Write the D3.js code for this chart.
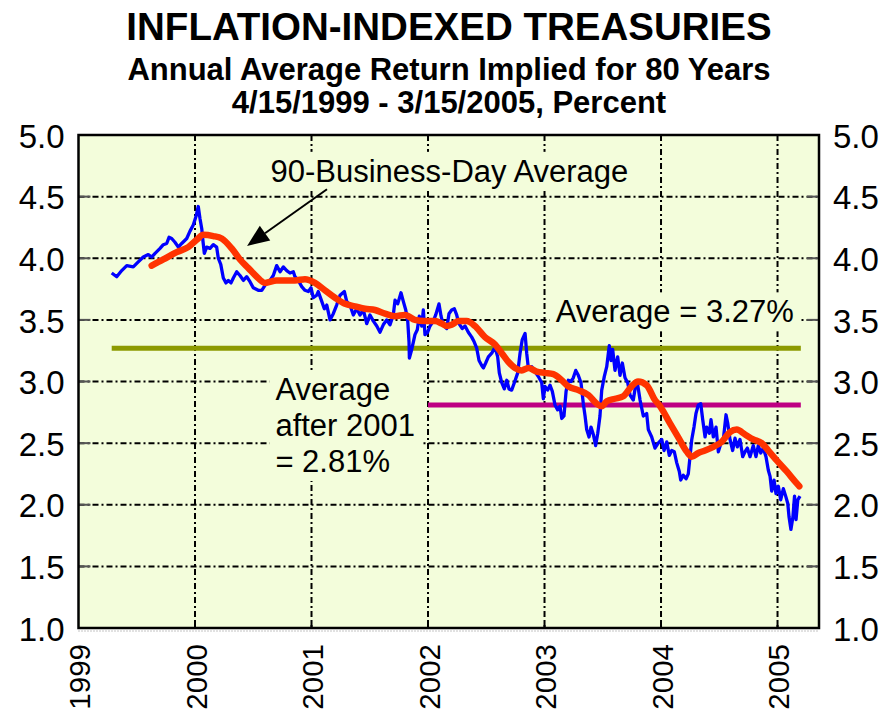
<!DOCTYPE html>
<html>
<head>
<meta charset="utf-8">
<script src="https://cdn.jsdelivr.net/npm/d3@7"></script>
<style>
  html, body { margin: 0; padding: 0; background: #ffffff; }
  svg { display: block; font-family: "Liberation Sans", Arial, sans-serif; }
</style>
</head>
<body>
<svg id="chart" width="883" height="711"></svg>
<script>
// ---------- DATA ----------
const titleLines = ["INFLATION-INDEXED TREASURIES", "Annual Average Return Implied for 80 Years", "4/15/1999 - 3/15/2005, Percent"];
const yTicks = [1.0, 1.5, 2.0, 2.5, 3.0, 3.5, 4.0, 4.5, 5.0];
const yearTicks = [1999, 2000, 2001, 2002, 2003, 2004, 2005];

// Weekly yield (decimal year, percent)
const blueT = [1999.285,1999.328,1999.371,1999.414,1999.470,1999.513,1999.556,1999.599,1999.628,1999.657,1999.700,1999.728,1999.757,1999.777,1999.800,1999.828,1999.857,1999.886,1999.929,1999.957,1999.985,2000.009,2000.028,2000.043,2000.058,2000.066,2000.080,2000.100,2000.129,2000.157,2000.186,2000.200,2000.221,2000.243,2000.266,2000.286,2000.309,2000.329,2000.358,2000.386,2000.415,2000.444,2000.472,2000.500,2000.543,2000.573,2000.601,2000.644,2000.672,2000.701,2000.730,2000.758,2000.787,2000.815,2000.844,2000.858,2000.887,2000.916,2000.944,2000.973,2000.996,2001.015,2001.045,2001.058,2001.088,2001.110,2001.131,2001.159,2001.187,2001.216,2001.245,2001.282,2001.302,2001.330,2001.359,2001.388,2001.416,2001.445,2001.474,2001.502,2001.531,2001.560,2001.588,2001.616,2001.645,2001.674,2001.702,2001.717,2001.740,2001.768,2001.788,2001.809,2001.826,2001.837,2001.840,2001.860,2001.874,2001.888,2001.908,2001.925,2001.946,2001.960,2001.974,2001.997,2002.017,2002.045,2002.066,2002.094,2002.112,2002.131,2002.161,2002.180,2002.203,2002.226,2002.246,2002.266,2002.294,2002.318,2002.346,2002.375,2002.397,2002.418,2002.438,2002.461,2002.475,2002.495,2002.518,2002.547,2002.575,2002.598,2002.612,2002.633,2002.655,2002.676,2002.695,2002.718,2002.741,2002.770,2002.790,2002.809,2002.833,2002.847,2002.861,2002.890,2002.918,2002.947,2002.976,2002.990,2003.004,2003.027,2003.047,2003.067,2003.090,2003.113,2003.133,2003.148,2003.167,2003.185,2003.204,2003.227,2003.247,2003.268,2003.290,2003.313,2003.333,2003.348,2003.362,2003.382,2003.399,2003.419,2003.439,2003.457,2003.476,2003.491,2003.513,2003.534,2003.548,2003.556,2003.571,2003.585,2003.605,2003.628,2003.648,2003.668,2003.691,2003.714,2003.734,2003.762,2003.777,2003.797,2003.820,2003.848,2003.877,2003.891,2003.920,2003.948,2003.976,2004.006,2004.026,2004.049,2004.071,2004.092,2004.114,2004.135,2004.157,2004.169,2004.191,2004.215,2004.234,2004.249,2004.264,2004.283,2004.300,2004.320,2004.341,2004.358,2004.378,2004.392,2004.415,2004.429,2004.449,2004.472,2004.492,2004.515,2004.535,2004.558,2004.573,2004.592,2004.615,2004.635,2004.655,2004.678,2004.701,2004.721,2004.741,2004.764,2004.792,2004.815,2004.835,2004.856,2004.878,2004.901,2004.921,2004.936,2004.950,2004.970,2004.987,2005.007,2005.027,2005.050,2005.070,2005.088,2005.099,2005.115,2005.132,2005.146,2005.159,2005.174,2005.193];
const blueV = [3.88,3.85,3.90,3.94,3.93,3.97,4.01,4.03,4.01,4.04,4.08,4.11,4.12,4.17,4.16,4.13,4.09,4.12,4.16,4.22,4.27,4.34,4.42,4.32,4.24,4.16,4.04,4.09,4.08,4.11,4.09,4.00,3.95,3.84,3.80,3.82,3.80,3.84,3.89,3.86,3.82,3.85,3.81,3.76,3.74,3.74,3.78,3.82,3.86,3.94,3.89,3.93,3.90,3.88,3.89,3.85,3.82,3.77,3.74,3.73,3.76,3.68,3.70,3.73,3.65,3.59,3.62,3.50,3.55,3.62,3.70,3.73,3.65,3.62,3.54,3.59,3.54,3.58,3.47,3.54,3.49,3.45,3.40,3.46,3.50,3.46,3.54,3.66,3.63,3.72,3.65,3.58,3.49,3.32,3.19,3.26,3.32,3.38,3.42,3.53,3.45,3.58,3.38,3.40,3.45,3.49,3.54,3.63,3.53,3.46,3.43,3.55,3.58,3.59,3.54,3.47,3.43,3.45,3.40,3.36,3.32,3.27,3.17,3.13,3.11,3.15,3.20,3.23,3.28,3.20,3.07,2.99,2.94,3.01,2.94,2.93,2.99,3.07,3.23,3.34,3.39,3.23,3.11,3.12,3.08,3.04,2.99,2.86,2.96,2.93,2.97,2.92,2.81,2.77,2.80,2.70,2.72,2.92,3.01,3.00,3.03,3.09,3.05,2.99,2.82,2.72,2.61,2.55,2.63,2.57,2.48,2.58,2.72,2.93,3.04,3.12,3.23,3.29,3.17,3.26,3.09,3.20,3.05,3.15,3.03,2.99,2.89,2.85,2.94,2.99,2.85,2.72,2.74,2.61,2.55,2.46,2.50,2.53,2.44,2.51,2.40,2.44,2.43,2.34,2.27,2.20,2.24,2.21,2.25,2.39,2.53,2.63,2.74,2.81,2.82,2.69,2.55,2.63,2.58,2.69,2.55,2.63,2.43,2.50,2.53,2.73,2.66,2.53,2.44,2.54,2.47,2.53,2.39,2.43,2.46,2.39,2.48,2.39,2.48,2.42,2.46,2.39,2.28,2.23,2.11,2.20,2.09,2.15,2.04,2.13,2.07,2.01,1.90,1.80,1.90,2.07,1.88,2.04,2.07];

// 90-business-day average
const redT = [1999.628,1999.728,1999.843,1999.942,2000.015,2000.071,2000.157,2000.229,2000.315,2000.386,2000.458,2000.530,2000.601,2000.701,2000.787,2000.858,2000.944,2001.030,2001.116,2001.202,2001.288,2001.373,2001.459,2001.545,2001.631,2001.717,2001.803,2001.888,2001.974,2002.060,2002.118,2002.161,2002.203,2002.260,2002.332,2002.403,2002.489,2002.575,2002.633,2002.689,2002.747,2002.804,2002.861,2002.933,2003.004,2003.076,2003.148,2003.204,2003.290,2003.376,2003.448,2003.491,2003.534,2003.605,2003.676,2003.747,2003.803,2003.877,2003.948,2003.991,2004.077,2004.152,2004.222,2004.264,2004.320,2004.378,2004.449,2004.521,2004.592,2004.650,2004.721,2004.792,2004.864,2004.921,2004.993,2005.079,2005.150,2005.187];
const redV = [3.94,3.99,4.05,4.09,4.15,4.19,4.18,4.16,4.08,3.99,3.92,3.85,3.80,3.82,3.82,3.82,3.83,3.80,3.74,3.68,3.63,3.61,3.59,3.58,3.55,3.53,3.54,3.50,3.49,3.49,3.47,3.45,3.46,3.49,3.49,3.45,3.36,3.30,3.23,3.16,3.11,3.09,3.11,3.08,3.07,3.06,3.01,2.96,2.93,2.89,2.82,2.80,2.84,2.86,2.88,2.96,3.00,2.97,2.85,2.80,2.66,2.54,2.43,2.39,2.42,2.44,2.47,2.51,2.59,2.61,2.57,2.53,2.50,2.44,2.36,2.27,2.19,2.15];

// Average reference lines
const avgAllValue = 3.27, avgAllStart = 1999.285, avgAllEnd = 2005.2;
const avgPostValue = 2.81, avgPostStart = 2002.0, avgPostEnd = 2005.2;

// Annotations (anchored in data units)
const maLabel = "90-Business-Day Average";
const maLabelAt = [2000.648, 4.62];
const arrowFrom = [2001.133, 4.56];
const arrowTo = [2000.447, 4.10];
const avgAllLabel = "Average = 3.27%";
const avgAllLabelAt = [2003.096, 3.48];
const avgPostLines = ["Average", "after 2001", "= 2.81%"];
const avgPostLabelAt = [2000.69, 2.85];

// ---------- LAYOUT ----------
const svg = d3.select("#chart");
const plot = { left: 78.5, right: 819, top: 135, bottom: 628 };
const x = d3.scaleLinear().domain([1999, 2005.356]).range([plot.left, plot.right]);
const y = d3.scaleLinear().domain([1, 5]).range([plot.bottom, plot.top]);

const plotBg = "#F3FDDB";
const fontAnno = "31px";

// Title
const titleSizes = [38.5, 31, 31];
const titleY = [40, 80, 113];
titleLines.forEach((t, i) => {
  svg.append("text").attr("x", 449).attr("y", titleY[i])
    .attr("text-anchor", "middle").attr("font-weight", "bold")
    .attr("font-size", titleSizes[i] + "px").attr("fill", "#000").text(t);
});

// Plot background
svg.append("rect").attr("x", plot.left).attr("y", plot.top)
  .attr("width", plot.right - plot.left).attr("height", plot.bottom - plot.top)
  .attr("fill", plotBg);

// Gridlines
const grid = svg.append("g").attr("stroke", "#000").attr("stroke-width", 2)
  .attr("stroke-dasharray", "6,3,2,3");
yTicks.filter(v => v > 1 && v < 5).forEach(v => {
  grid.append("line").attr("x1", plot.left).attr("x2", plot.right)
    .attr("y1", y(v)).attr("y2", y(v));
});
yearTicks.filter(t => t > 1999).forEach(t => {
  grid.append("line").attr("x1", x(t)).attr("x2", x(t))
    .attr("y1", plot.top).attr("y2", plot.bottom);
});

// Tick marks (inside plot)
const tk = svg.append("g").attr("stroke", "#555").attr("stroke-width", 2);
yTicks.filter(v => v > 1 && v < 5).forEach(v => {
  tk.append("line").attr("x1", plot.left).attr("x2", plot.left + 12).attr("y1", y(v)).attr("y2", y(v));
  tk.append("line").attr("x1", plot.right - 12).attr("x2", plot.right).attr("y1", y(v)).attr("y2", y(v));
});
yearTicks.filter(t => t > 1999).forEach(t => {
  svg.append("line").attr("x1", x(t)).attr("x2", x(t)).attr("y1", plot.bottom).attr("y2", plot.bottom - 6)
    .attr("stroke", "#000").attr("stroke-width", 2);
});

// Text with background box
function boxedText(lines, at, anchor, lineH) {
  const g = svg.append("g");
  const rect = g.append("rect").attr("fill", plotBg);
  const txt = g.append("text").attr("font-size", fontAnno).attr("fill", "#000")
    .attr("text-anchor", anchor);
  lines.forEach((l, i) => {
    txt.append("tspan").attr("x", x(at[0])).attr("y", y(at[1]) + i * lineH).text(l);
  });
  const bb = txt.node().getBBox();
  rect.attr("x", bb.x - 6).attr("y", bb.y - 2).attr("width", bb.width + 12).attr("height", bb.height + 4);
  return g;
}
boxedText([maLabel], maLabelAt, "start", 0);
boxedText([avgAllLabel], avgAllLabelAt, "start", 0);
boxedText(avgPostLines, avgPostLabelAt, "start", 36);

// Arrow
const ax1 = x(arrowFrom[0]), ay1 = y(arrowFrom[1]), ax2 = x(arrowTo[0]), ay2 = y(arrowTo[1]);
const ang = Math.atan2(ay2 - ay1, ax2 - ax1);
const headLen = 22, headW = 9;
const bx = ax2 - headLen * Math.cos(ang), by = ay2 - headLen * Math.sin(ang);
svg.append("line").attr("x1", ax1).attr("y1", ay1).attr("x2", bx).attr("y2", by)
  .attr("stroke", "#000").attr("stroke-width", 2);
svg.append("path")
  .attr("d", d3.line()([
    [ax2, ay2],
    [bx + headW * Math.sin(ang), by - headW * Math.cos(ang)],
    [bx - headW * Math.sin(ang), by + headW * Math.cos(ang)]
  ]) + "Z")
  .attr("fill", "#000");

// Average lines
svg.append("line").attr("x1", x(avgAllStart)).attr("x2", x(avgAllEnd))
  .attr("y1", y(avgAllValue)).attr("y2", y(avgAllValue))
  .attr("stroke", "#8C9A00").attr("stroke-width", 5);
svg.append("line").attr("x1", x(avgPostStart)).attr("x2", x(avgPostEnd))
  .attr("y1", y(avgPostValue)).attr("y2", y(avgPostValue))
  .attr("stroke", "#BE0082").attr("stroke-width", 5);

// Series
const blue = blueT.map((t, i) => [t, blueV[i]]);
const red = redT.map((t, i) => [t, redV[i]]);
const line = d3.line().x(d => x(d[0])).y(d => y(d[1]));
svg.append("path").attr("d", line(blue)).attr("fill", "none")
  .attr("stroke", "#0000FF").attr("stroke-width", 3.3).attr("stroke-linejoin", "round");
svg.append("path").attr("d", line.curve(d3.curveMonotoneX)(red)).attr("fill", "none")
  .attr("stroke", "#FF3300").attr("stroke-width", 6.5)
  .attr("stroke-linejoin", "round").attr("stroke-linecap", "round");

// Frame
svg.append("rect").attr("x", plot.left).attr("y", plot.top)
  .attr("width", plot.right - plot.left).attr("height", plot.bottom - plot.top)
  .attr("fill", "none").attr("stroke", "#000").attr("stroke-width", 2.5);
svg.append("line").attr("x1", plot.left).attr("x2", plot.right)
  .attr("y1", plot.bottom + 3).attr("y2", plot.bottom + 3)
  .attr("stroke", "#888").attr("stroke-width", 1).attr("stroke-dasharray", "1,2");

// Axes
const fmt = d3.format(".1f");
const yl = svg.append("g").attr("transform", `translate(${plot.left},0)`)
  .call(d3.axisLeft(y).tickValues(yTicks).tickFormat(fmt).tickSize(0).tickPadding(14));
const yr = svg.append("g").attr("transform", `translate(${plot.right},0)`)
  .call(d3.axisRight(y).tickValues(yTicks).tickFormat(fmt).tickSize(0).tickPadding(14));
[yl, yr].forEach(g => {
  g.select(".domain").remove();
  g.selectAll("text").attr("font-size", "33px").attr("font-family", "Liberation Sans, Arial, sans-serif")
    .attr("fill", "#000").attr("dy", "0.37em");
});
const xa = svg.append("g").attr("transform", `translate(0,${plot.bottom})`)
  .call(d3.axisBottom(x).tickValues(yearTicks).tickFormat(d3.format("d")).tickSize(0));
xa.select(".domain").remove();
xa.selectAll("text").attr("font-size", "29.5px").attr("font-family", "Liberation Sans, Arial, sans-serif")
  .attr("fill", "#000").attr("text-anchor", "end")
  .attr("transform", "rotate(-90)").attr("x", -16).attr("y", 11).attr("dy", 0);
</script>
</body>
</html>
